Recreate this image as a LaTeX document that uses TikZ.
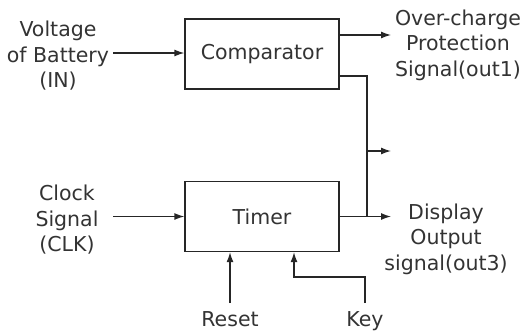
\documentclass[tikz,border=0pt]{standalone}
\usepackage{fontspec}
\setmainfont{DejaVu Sans}
\usetikzlibrary{arrows.meta}
\begin{document}
\begin{tikzpicture}[x=1pt,y=-1pt,
  font=\fontsize{20.5}{25.5}\selectfont,
  line width=1.3pt, draw=black!85, text=black!80,
  blk/.style={draw,minimum width=154pt,minimum height=70pt,inner sep=0pt},
  lbl/.style={align=center,inner sep=0pt},
  arr/.style={-{Latex[length=10pt,width=7pt]}}]
\useasboundingbox (0,0) rectangle (526,333);
\node[blk] (comp) at (262,54) {Comparator};
\node[blk] (timer) at (262,216.5) {Timer};
\node[lbl] (vin) at (58,56) {Voltage\\of Battery\\(IN)};
\node[lbl] (clk) at (67,220) {Clock\\Signal\\(CLK)};
\node[lbl] (out1) at (458,45) {Over-charge\\Protection\\Signal(out1)};
\node[lbl] (out3) at (446,239) {Display\\Output\\signal(out3)};
\node[lbl,anchor=north] (reset) at (230,311) {Reset};
\node[lbl,anchor=north] (key) at (365,311) {Key};
\coordinate (vin0) at (113,53);
\coordinate (clk0) at (113,216.5);
\coordinate (o1) at (391,35);
\coordinate (o2) at (391,151);
\coordinate (o3) at (391,216.5);
\coordinate (j1) at (367,76);
\coordinate (kk) at (294,277);
\draw[arr] (vin0) -- (vin0 -| comp.west);
\draw[arr] (clk0) -- (clk0 -| timer.west);
\draw[arr] (comp.east |- o1) -- (o1);
\draw (comp.east |- j1) -- (j1) -- (j1 |- timer.east);
\draw[arr] (j1 |- o2) -- (o2);
\draw[arr] (timer.east) -- (o3);
\draw[arr] ([yshift=8pt]reset.north) -- (reset.north |- timer.south);
\draw[arr] ([yshift=8pt]key.north) |- (kk) -- (kk |- timer.south);
\end{tikzpicture}
\end{document}
